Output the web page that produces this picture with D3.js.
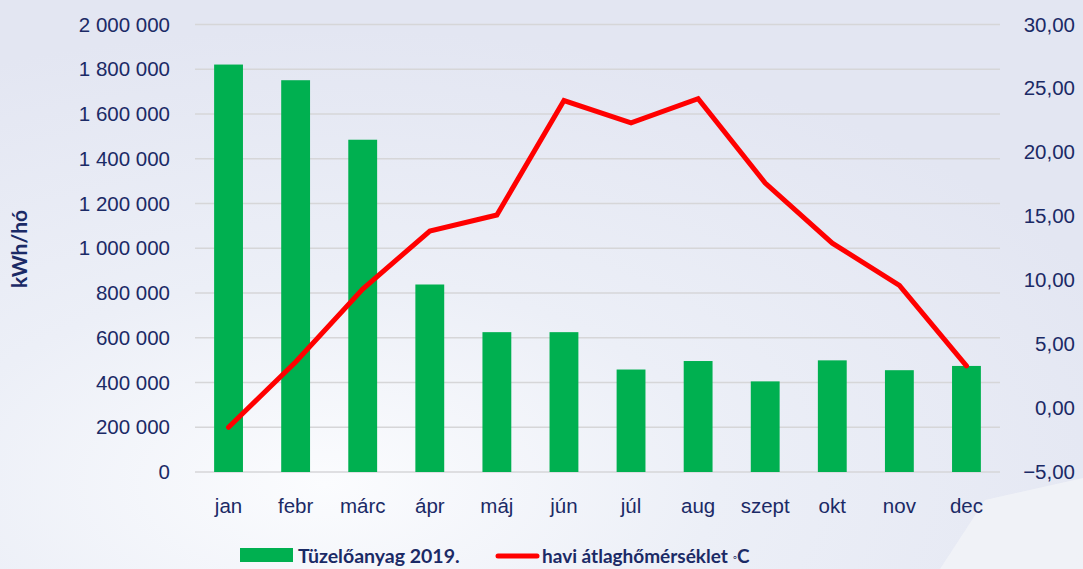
<!DOCTYPE html>
<html lang="hu">
<head>
<meta charset="UTF-8">
<title>Tüzelőanyag 2019</title>
<script src="https://d3js.org/d3.v7.min.js"></script>
<style>
    body { margin: 0; }
    svg { display: block; font-family: Lato, "Open Sans", sans-serif; }
    .tick text { fill: #1b2a66; }
</style>
</head>
<body>
<script>
    const months = ["jan", "febr", "márc", "ápr", "máj", "jún", "júl", "aug", "szept", "okt", "nov", "dec"];
    const fuel = [1821000, 1751000, 1485000, 838000, 625000, 625000, 458000, 496000, 405000, 499000, 455000, 474000];
    const temp = [-1.5, 3.6, 9.3, 13.85, 15.1, 24.05, 22.3, 24.2, 17.6, 12.9, 9.6, 3.3];
    const leftTicks = d3.range(0, 2000001, 200000);
    const rightTicks = d3.range(-5, 31, 5);

    const W = 1083, H = 569;
    const margin = { top: 24.5, right: 83, bottom: 97, left: 195 };
    const width = W - margin.left - margin.right,
        height = H - margin.top - margin.bottom;

    const svg = d3.select("body").append("svg")
        .attr("width", W)
        .attr("height", H);

    // background
    const defs = svg.append("defs");
    const grad = defs.append("radialGradient")
        .attr("id", "bg")
        .attr("cx", "0.3").attr("cy", "0.85").attr("r", "0.8");
    grad.append("stop").attr("offset", "0%").attr("stop-color", "#fbfcfe");
    grad.append("stop").attr("offset", "45%").attr("stop-color", "#eceff7");
    grad.append("stop").attr("offset", "100%").attr("stop-color", "#e3e6f2");
    svg.append("rect").attr("width", W).attr("height", H).attr("fill", "url(#bg)");

    // faint solar panel hint, bottom right
    svg.append("path")
        .attr("d", "M940,569 L985,500 L1083,478 L1083,569 Z")
        .attr("fill", "#f3f4f8")
        .attr("opacity", 0.8);

    const g = svg.append("g")
        .attr("transform", `translate(${margin.left},${margin.top})`);

    const x = d3.scaleBand().domain(months).range([0, width]).paddingInner(0.57).paddingOuter(0.285);
    const y = d3.scaleLinear().domain([0, 2000000]).range([height, 0]);
    const y2 = d3.scaleLinear().domain([-5, 30]).range([height, 0]);

    // gridlines
    g.append("g")
        .selectAll("line")
        .data(leftTicks)
        .join("line")
        .attr("x1", 0).attr("x2", width)
        .attr("y1", d => y(d)).attr("y2", d => y(d))
        .attr("stroke", "#d6d6d8")
        .attr("stroke-width", 1.5);

    const fmtLeft = d => d3.format(",")(d).replace(/,/g, " ");
    const fmtRight = d => d3.format(".2f")(d).replace(".", ",");

    const yAxis = g.append("g")
        .attr("transform", "translate(-22,0)")
        .call(d3.axisLeft(y).tickValues(leftTicks).tickFormat(fmtLeft).tickSize(0));
    yAxis.select(".domain").remove();
    yAxis.selectAll("text").attr("font-size", 20.5);

    const yAxis2 = g.append("g")
        .attr("transform", `translate(${width + 78},0)`)
        .call(d3.axisLeft(y2).tickValues(rightTicks).tickFormat(fmtRight).tickSize(0));
    yAxis2.select(".domain").remove();
    yAxis2.selectAll("text").attr("font-size", 20.5);

    const xAxis = g.append("g")
        .attr("transform", `translate(0,${height + 23})`)
        .call(d3.axisBottom(x).tickSize(0));
    xAxis.select(".domain").remove();
    xAxis.selectAll("text").attr("font-size", 20.5);

    // bars
    g.append("g")
        .selectAll("rect")
        .data(fuel)
        .join("rect")
        .attr("x", (d, i) => x(months[i]))
        .attr("width", x.bandwidth())
        .attr("y", d => y(d))
        .attr("height", d => height - y(d))
        .attr("fill", "#00b050");

    // temperature line
    const line = d3.line()
        .x((d, i) => x(months[i]) + x.bandwidth() / 2)
        .y(d => y2(d));
    g.append("path")
        .datum(temp)
        .attr("d", line)
        .attr("fill", "none")
        .attr("stroke", "#ff0000")
        .attr("stroke-width", 5)
        .attr("stroke-linecap", "round")
        .attr("stroke-linejoin", "miter");

    // y axis title
    svg.append("text")
        .attr("transform", "translate(27,249) rotate(-90)")
        .attr("text-anchor", "middle")
        .attr("font-size", 21)
        .attr("font-weight", "bold")
        .attr("fill", "#1b2a66")
        .text("kWh/hó");

    // legend
    const leg = svg.append("g");
    leg.append("rect")
        .attr("x", 240).attr("y", 548).attr("width", 53).attr("height", 14)
        .attr("fill", "#00b050");
    leg.append("text")
        .attr("x", 298).attr("y", 563)
        .attr("font-size", 19.5).attr("font-weight", "bold").attr("fill", "#1b2a66")
        .text("Tüzelőanyag 2019.");
    leg.append("line")
        .attr("x1", 498).attr("x2", 537).attr("y1", 556).attr("y2", 556)
        .attr("stroke", "#ff0000").attr("stroke-width", 5).attr("stroke-linecap", "round");
    const t2 = leg.append("text")
        .attr("x", 542).attr("y", 563)
        .attr("font-size", 19).attr("font-weight", "bold").attr("fill", "#1b2a66");
    t2.append("tspan").text("havi átlaghőmérséklet ");
    t2.append("tspan").attr("font-size", 11).attr("font-weight", "normal").attr("dy", -2).text("◦");
    t2.append("tspan").attr("dy", 2).text("C");
</script>
</body>
</html>
